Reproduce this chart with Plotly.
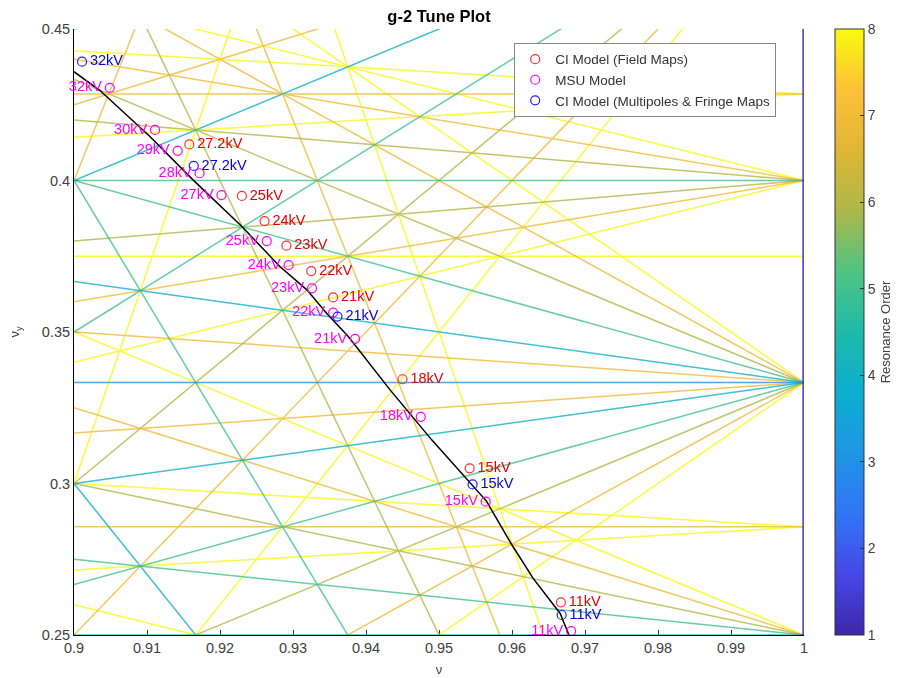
import math
import plotly.graph_objects as go
from plotly.colors import sample_colorscale

# ---------------- data ----------------
max_order = 8
nux_range = [0.9, 1.0]
nuy_range = [0.25, 0.45]

ci_fm_kv = ["27.2kV", "25kV", "24kV", "23kV", "22kV", "21kV", "18kV", "15kV", "11kV"]
ci_fm_nux = [0.9158, 0.9230, 0.9261, 0.9291, 0.9325, 0.9355, 0.9450, 0.9542, 0.9667]
ci_fm_nuy = [0.4119, 0.3949, 0.3866, 0.3785, 0.3701, 0.3614, 0.3344, 0.3050, 0.2608]

msu_kv = ["32kV", "30kV", "29kV", "28kV", "27kV", "25kV", "24kV", "23kV", "22kV", "21kV", "18kV", "15kV", "11kV"]
msu_nux = [0.9049, 0.9111, 0.9142, 0.9172, 0.9202, 0.9264, 0.9294, 0.9326, 0.9355, 0.9385, 0.9475, 0.9564, 0.9681]
msu_nuy = [0.4306, 0.4167, 0.4098, 0.4024, 0.3952, 0.3800, 0.3721, 0.3644, 0.3564, 0.3477, 0.3220, 0.2940, 0.2513]

ci_mp_kv = ["32kV", "27.2kV", "21kV", "15kV", "11kV"]
ci_mp_nux = [0.9011, 0.9164, 0.9361, 0.9546, 0.9668]
ci_mp_nuy = [0.4392, 0.4048, 0.3551, 0.2997, 0.2566]

curve_nux = [0.9000, 0.9036, 0.9104, 0.9163, 0.9230, 0.9282, 0.9319, 0.9346, 0.9376,
             0.9433, 0.9490, 0.9565, 0.9600, 0.9629, 0.9666, 0.9678]
curve_nuy = [0.4359, 0.4296, 0.4145, 0.4002, 0.3848, 0.3716, 0.3639, 0.3562, 0.3484,
             0.3309, 0.3144, 0.2942, 0.2797, 0.2687, 0.2571, 0.2500]

x_ticks = [0.9, 0.91, 0.92, 0.93, 0.94, 0.95, 0.96, 0.97, 0.98, 0.99, 1.0]
x_ticktext = ["0.9", "0.91", "0.92", "0.93", "0.94", "0.95", "0.96", "0.97", "0.98", "0.99", "1"]
y_ticks = [0.25, 0.3, 0.35, 0.4, 0.45]
y_ticktext = ["0.25", "0.3", "0.35", "0.4", "0.45"]
cb_ticks = [1, 2, 3, 4, 5, 6, 7, 8]

parula = [
    [0.00, "rgb(62,38,168)"],
    [0.10, "rgb(70,72,232)"],
    [0.20, "rgb(48,118,245)"],
    [0.30, "rgb(30,150,228)"],
    [0.40, "rgb(12,174,208)"],
    [0.50, "rgb(30,186,170)"],
    [0.60, "rgb(80,196,130)"],
    [0.70, "rgb(172,184,74)"],
    [0.80, "rgb(224,182,52)"],
    [0.90, "rgb(253,192,56)"],
    [1.00, "rgb(249,251,14)"],
]

# ---------------- resonance lines ----------------
corners = [(x, y) for x in nux_range for y in nuy_range]
lines = {}
for m in range(-max_order, max_order + 1):
    for n in range(0, max_order + 1):
        order = abs(m) + abs(n)
        if order == 0 or order > max_order:
            continue
        if n == 0 and m <= 0:
            continue
        vals = [m * x + n * y for x, y in corners]
        pmin = math.ceil(min(vals) - 1e-9)
        pmax = math.floor(max(vals) + 1e-9)
        for p in range(pmin, pmax + 1):
            g = math.gcd(math.gcd(abs(m), abs(n)), abs(p)) or 1
            key = (m // g, n // g, p // g)
            if key not in lines or lines[key][0] > order:
                lines[key] = (order, m, n, p)

by_order = {}
for key, (order, m, n, p) in lines.items():
    xs, ys = by_order.setdefault(order, ([], []))
    if n == 0:
        xv = p / m
        xs += [xv, xv, None]
        ys += [nuy_range[0], nuy_range[1], None]
    else:
        xs += [nux_range[0], nux_range[1], None]
        ys += [(p - m * nux_range[0]) / n, (p - m * nux_range[1]) / n, None]

fig = go.Figure()
for order in sorted(by_order.keys(), reverse=True):
    xs, ys = by_order[order]
    col = sample_colorscale(parula, [(order - 1) / 7])[0]
    w = 3.5 if order <= 2 else 1.5
    fig.add_trace(go.Scatter(x=xs, y=ys, mode="lines", line=dict(color=col, width=w),
                             opacity=0.8, showlegend=False, hoverinfo="skip"))

# tune curve
fig.add_trace(go.Scatter(x=curve_nux, y=curve_nuy, mode="lines",
                         line=dict(color="black", width=1.5), showlegend=False))

# colorbar carrier
fig.add_trace(go.Scatter(x=[2, 2], y=[2, 2], mode="markers", showlegend=False,
                         marker=dict(color=[1, 8], cmin=1, cmax=8, colorscale=parula, size=1,
                                     showscale=True,
                                     colorbar=dict(x=1.0425, xanchor="left", xpad=0, ypad=0,
                                                   y=0.5, yanchor="middle", len=1, lenmode="fraction",
                                                   thickness=29, outlinewidth=1, outlinecolor="#333",
                                                   tickvals=cb_ticks, ticks="inside", ticklen=4,
                                                   tickcolor="#333",
                                                   tickfont=dict(size=14, color="#404040"),
                                                   title=dict(text="Resonance Order", side="right",
                                                              font=dict(size=13, color="#404040"))))))

series = [
    ("CI Model (Field Maps)", ci_fm_nux, ci_fm_nuy, ci_fm_kv, "#ff3030", "#e00000", "middle right"),
    ("MSU Model", msu_nux, msu_nuy, msu_kv, "#ff00ff", "#ff00ff", "middle left"),
    ("CI Model (Multipoles & Fringe Maps", ci_mp_nux, ci_mp_nuy, ci_mp_kv, "#2020ff", "#0000e0", "middle right"),
]
for name, xs, ys, txt, mc, tc, pos in series:
    fig.add_trace(go.Scatter(x=xs, y=ys, mode="markers", name=name,
                             marker=dict(symbol="circle-open", size=9, color=mc, line=dict(width=1.2))))
for name, xs, ys, txt, mc, tc, pos in series:
    fig.add_trace(go.Scatter(x=xs, y=ys, mode="markers+text", text=txt, textposition=pos,
                             showlegend=False, hoverinfo="skip", cliponaxis=False,
                             marker=dict(size=11, color="rgba(0,0,0,0)"),
                             textfont=dict(size=14.5, color=tc, family="Arial, Liberation Sans")))

fig.update_layout(
    width=900, height=678,
    margin=dict(l=74, r=96, t=29, b=43, autoexpand=False),
    paper_bgcolor="white", plot_bgcolor="white",
    font=dict(family="Arial, Liberation Sans, sans-serif", color="#404040"),
    title=dict(text="<b>g-2 Tune Plot</b>", x=0.5, xref="paper", xanchor="center",
               y=1 - 16 / 678, yanchor="middle", font=dict(size=16.5, color="black")),
    legend=dict(x=0.603, y=0.977, xanchor="left", yanchor="top", bgcolor="white",
                bordercolor="#888", borderwidth=1, font=dict(size=13.5, color="#333"),
                itemwidth=30, tracegroupgap=0),
    xaxis=dict(range=nux_range, tickvals=x_ticks, ticktext=x_ticktext, showgrid=False,
               zeroline=False, showline=True, linecolor="black", linewidth=1, ticks="inside",
               ticklen=5, tickcolor="#333", tickfont=dict(size=14.5, color="#404040"),
               layer="below traces",
               title=dict(text="ν", font=dict(size=13, color="#404040"), standoff=9)),
    yaxis=dict(range=nuy_range, tickvals=y_ticks, ticktext=y_ticktext, showgrid=False,
               zeroline=False, showline=True, linecolor="black", linewidth=1, ticks="inside",
               ticklen=5, tickcolor="#333", tickfont=dict(size=14.5, color="#404040"),
               layer="below traces",
               title=dict(text="ν<sub>y</sub>", font=dict(size=13, color="#404040"), standoff=19)),
)

fig.write_html("out.html", config={"displayModeBar": False},
               post_script="document.body.style.margin='0';document.body.style.overflow='hidden';")
